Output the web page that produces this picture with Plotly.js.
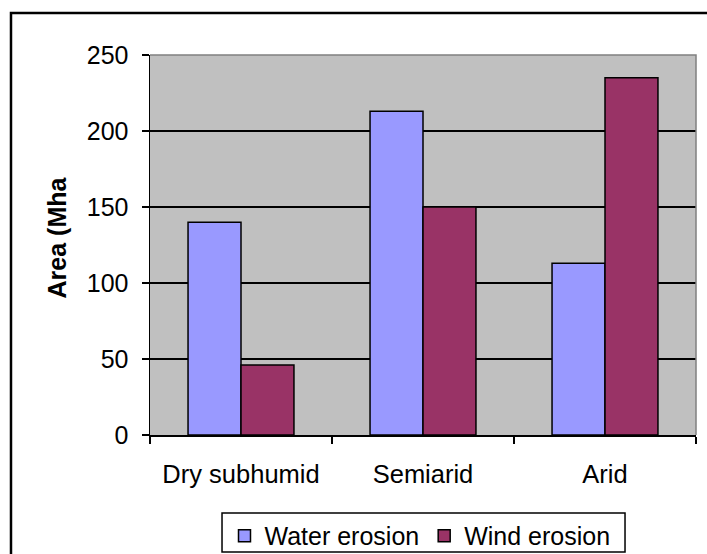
<!DOCTYPE html>
<html>
<head>
<meta charset="utf-8">
<script src="https://cdn.plot.ly/plotly-3.0.1.min.js"></script>
<style>
  html, body { margin: 0; padding: 0; background: #ffffff; }
  #chart { width: 707px; height: 554px; }
</style>
</head>
<body>
<div id="chart"></div>
<script>
const categories = ["Dry subhumid", "Semiarid", "Arid"];
const waterErosion = [140, 213, 113];
const windErosion = [46, 150, 235];
const yTickValues = [0, 50, 100, 150, 200, 250];

const FONT = "Liberation Sans, Arial, sans-serif";

const traces = [
  {
    type: "bar",
    name: "Water erosion",
    x: categories,
    y: waterErosion,
    marker: { color: "#9999FF", line: { color: "#000000", width: 1.5 } }
  },
  {
    type: "bar",
    name: "Wind erosion",
    x: categories,
    y: windErosion,
    marker: { color: "#993366", line: { color: "#000000", width: 1.5 } }
  }
];

const layout = {
  width: 707,
  height: 554,
  margin: { l: 150, r: 11, t: 55, b: 119, autoexpand: false },
  paper_bgcolor: "#ffffff",
  plot_bgcolor: "#C0C0C0",
  barmode: "group",
  bargap: 0.418,
  bargroupgap: 0,
  font: { family: FONT, size: 25, color: "#000000" },
  showlegend: true,
  legend: {
    orientation: "h",
    x: 0.4945,
    xanchor: "center",
    y: -0.205,
    yanchor: "top",
    bgcolor: "rgba(255,255,255,0)",
    borderwidth: 0,
    font: { family: FONT, size: 25, color: "#000000" },
    itemclick: false
  },
  xaxis: {
    type: "category",
    automargin: false,
    tickson: "boundaries",
    ticks: "outside",
    ticklen: 7,
    tickwidth: 1.5,
    tickcolor: "#000000",
    showline: true,
    linecolor: "#000000",
    linewidth: 1.5,
    showgrid: false,
    ticklabelstandoff: 16,
    tickfont: { family: FONT, size: 25.5, color: "#000000" }
  },
  yaxis: {
    automargin: false,
    range: [0, 250],
    tickvals: yTickValues,
    ticktext: yTickValues.map(String),
    ticks: "outside",
    ticklen: 7,
    tickwidth: 1.5,
    tickcolor: "#000000",
    showline: true,
    linecolor: "#000000",
    linewidth: 1.5,
    showgrid: true,
    gridcolor: "#000000",
    gridwidth: 1.5,
    zeroline: false,
    ticklabelstandoff: 8,
    tickfont: { family: FONT, size: 25, color: "#000000" },
    title: {
      text: "<b>&nbsp;&nbsp;Area (Mha</b>",
      font: { family: FONT, size: 25, color: "#000000" },
      standoff: 13
    }
  },
  shapes: [
    {
      type: "path",
      xref: "paper", yref: "paper",
      path: "M 0 1 L 1 1 L 1 0",
      line: { color: "#808080", width: 1.5 },
      layer: "above"
    },
    {
      type: "rect",
      xref: "paper", yref: "paper",
      x0: -0.2546, x1: 1.2, y0: -0.6, y1: 1.1105,
      line: { color: "#000000", width: 2.5 },
      fillcolor: "rgba(0,0,0,0)",
      layer: "above"
    },
    {
      type: "rect",
      xref: "paper", yref: "paper",
      x0: 0.1319, x1: 0.870, y0: -0.3079, y1: -0.2053,
      line: { color: "#000000", width: 1.5 },
      fillcolor: "#ffffff",
      layer: "below"
    }
  ]
};

Plotly.newPlot("chart", traces, layout, { displayModeBar: false, staticPlot: true });
</script>
</body>
</html>
